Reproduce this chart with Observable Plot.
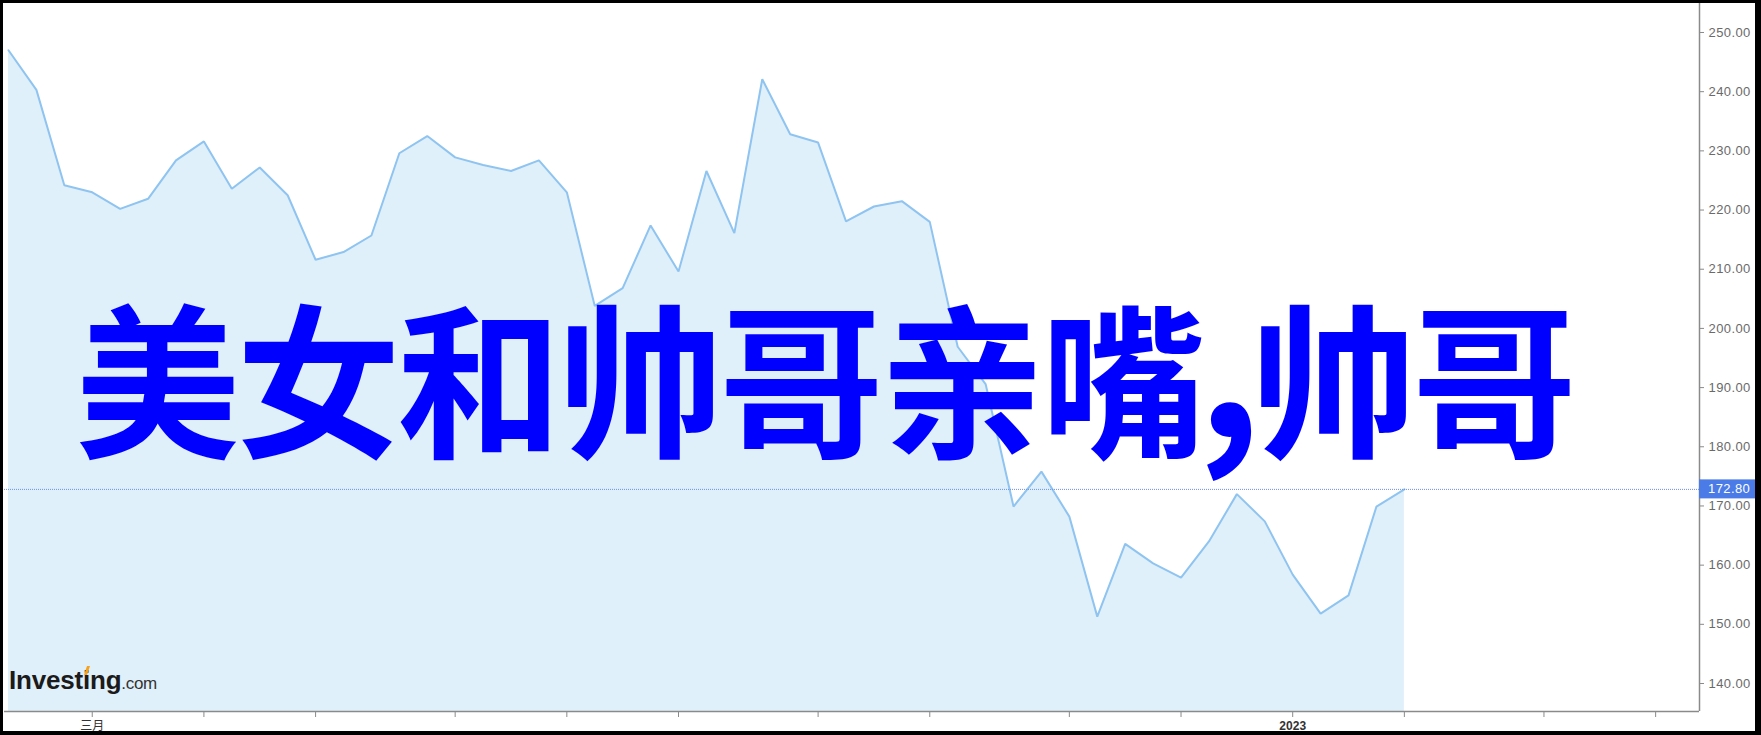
<!DOCTYPE html>
<html><head><meta charset="utf-8">
<script src="https://cdn.jsdelivr.net/npm/d3@7"></script>
<script src="https://cdn.jsdelivr.net/npm/@observablehq/plot@0.6"></script>
<style>
html,body{margin:0;padding:0;background:#fff;overflow:hidden}
#wrap{position:relative;width:1761px;height:735px}
#frame{position:absolute;left:0;top:0;width:1761px;height:735px;box-sizing:border-box;border-style:solid;border-color:#000;border-width:3px 6px 4px 3px;pointer-events:none}
</style></head><body>
<div id="wrap"><div id="chart"></div><div id="frame"></div></div>
<script>
// weekly dates
const weeks = ["2022-02-13","2022-02-20","2022-02-27","2022-03-06","2022-03-13","2022-03-20","2022-03-27","2022-04-03","2022-04-10","2022-04-17","2022-04-24","2022-05-01","2022-05-08","2022-05-15","2022-05-22","2022-05-29","2022-06-05","2022-06-12","2022-06-19","2022-06-26","2022-07-03","2022-07-10","2022-07-17","2022-07-24","2022-07-31","2022-08-07","2022-08-14","2022-08-21","2022-08-28","2022-09-04","2022-09-11","2022-09-18","2022-09-25","2022-10-02","2022-10-09","2022-10-16","2022-10-23","2022-10-30","2022-11-06","2022-11-13","2022-11-20","2022-11-27","2022-12-04","2022-12-11","2022-12-18","2022-12-25","2023-01-01","2023-01-08","2023-01-15","2023-01-22","2023-01-29"];
const prices = [247.0,240.3,224.2,223.0,220.2,221.9,228.4,231.6,223.6,227.2,222.5,211.6,212.9,215.7,229.6,232.5,228.9,227.6,226.6,228.4,223.0,203.8,206.8,217.4,209.6,226.6,216.1,242.1,232.8,231.4,218.1,220.6,221.5,218.0,196.9,190.6,169.9,175.8,168.2,151.3,163.6,160.3,157.9,164.0,172.0,167.4,158.4,151.8,154.9,169.9,172.8];
const xTickDates = ["2022-03-06","2022-04-03","2022-05-01","2022-06-05","2022-07-03","2022-07-31","2022-09-04","2022-10-02","2022-11-06","2022-12-04","2023-01-01","2023-01-29","2023-03-05","2023-04-02"];
const xTickLabels = ["三月","","","","","","","","","","2023","","",""];
const yTicks = [140,150,160,170,180,190,200,210,220,230,240,250];
const lastPrice = 172.80;
const xDomain = ["2022-02-12","2023-04-13"];
const yDomain = [135.27, 254.9];
const overlayText = ["美女和帅哥亲嘴", ",", "帅哥"];

const data = weeks.map((w, i) => ({date: new Date(w), price: prices[i]}));
const tickDates = xTickDates.map(d => new Date(d));
const labelOf = new Map(xTickDates.map((d, i) => [+new Date(d), xTickLabels[i]]));

const chart = Plot.plot({
  width: 1761, height: 735,
  marginLeft: 4, marginRight: 62, marginTop: 3, marginBottom: 24,
  style: {background: "white", fontFamily: "'Liberation Sans', Arial, 'Noto Sans CJK SC', sans-serif", fontSize: "13px", overflow: "visible"},
  x: {type: "utc", domain: xDomain.map(d => new Date(d)), ticks: tickDates, tickFormat: d => labelOf.get(+d) || "", tickSize: 6, tickPadding: 4, label: null},
  y: {domain: yDomain, axis: "right", ticks: yTicks, tickFormat: d => d.toFixed(2), tickSize: 4, tickPadding: 5, label: null},
  marks: [
    Plot.areaY(data, {x: "date", y1: yDomain[0], y2: "price", fill: "#dff0fa", curve: "linear"}),
    Plot.lineY(data, {x: "date", y: "price", stroke: "#8fc4f0", strokeWidth: 2, strokeLinejoin: "miter", curve: "linear"}),
    Plot.ruleY([lastPrice], {stroke: "#6b90ea", strokeWidth: 1, strokeDasharray: "1,1"}),
    Plot.ruleX([new Date(xDomain[1])], {stroke: "#8a8a8a", strokeWidth: 1.5}),
    Plot.ruleY([yDomain[0]], {stroke: "#8a8a8a", strokeWidth: 1.5})
  ]
});
document.getElementById("chart").appendChild(chart);

const svg = d3.select(chart);
// axis styling
svg.selectAll('[aria-label^="y-axis"] text').attr("fill", "#6a6a6a").style("letter-spacing", "0.4px");
svg.selectAll('[aria-label^="y-axis"] line, [aria-label^="y-axis"] path').attr("stroke", "#8a8a8a");
svg.selectAll('[aria-label^="x-axis"] text').attr("fill", "#333").style("font-size", "12px");
svg.selectAll('[aria-label^="x-axis"] line, [aria-label^="x-axis"] path').attr("stroke", "#8a8a8a");
svg.selectAll('[aria-label^="x-axis"] text').filter(function(){ return this.textContent === "2023"; }).attr("font-weight", "bold");

// last price label box
const ys = chart.scale("y");
const yLast = ys.apply(lastPrice);
const xRight = 1761 - 62;
const g = svg.append("g").attr("text-anchor", "start");
g.append("rect").attr("x", xRight).attr("y", yLast - 9.5).attr("width", 62).attr("height", 19).attr("fill", "#4a7be6");
g.append("text").attr("x", xRight + 9).attr("y", yLast).attr("dy", "0.35em").attr("fill", "white")
  .style("font-size", "13px").style("letter-spacing", "0.4px").text(lastPrice.toFixed(2));

// Investing.com logo
const logo = svg.append("text").attr("x", 9).attr("y", 689).attr("text-anchor", "start")
  .style("font-family", "'Liberation Sans', Arial, sans-serif");
logo.append("tspan").attr("font-weight", "bold").attr("fill", "#1b1b1b").style("font-size", "26px").style("letter-spacing", "-0.2px").text("Investing");
logo.append("tspan").attr("fill", "#333").style("font-size", "17px").style("letter-spacing", "-0.3px").text(".com");
svg.append("path").attr("d", "M84,675 L87,666 L90,666 L87,675 Z").attr("fill", "#f7a21b");

// overlay text
const ov = svg.append("g").attr("fill", "#0000ff").attr("font-weight", "bold").attr("text-anchor", "start")
  .style("font-family", "'Noto Sans CJK SC', sans-serif");
ov.append("text").attr("x", 75).attr("y", 445).style("font-size", "165px").style("letter-spacing", "-4px").text(overlayText[0]);
ov.append("text").attr("x", 1229).attr("y", 438).attr("text-anchor", "middle").style("font-size", "200px").text(overlayText[1]);
ov.append("text").attr("x", 1251).attr("y", 445).style("font-size", "165px").style("letter-spacing", "-4px").text(overlayText[2]);
</script></body></html>
